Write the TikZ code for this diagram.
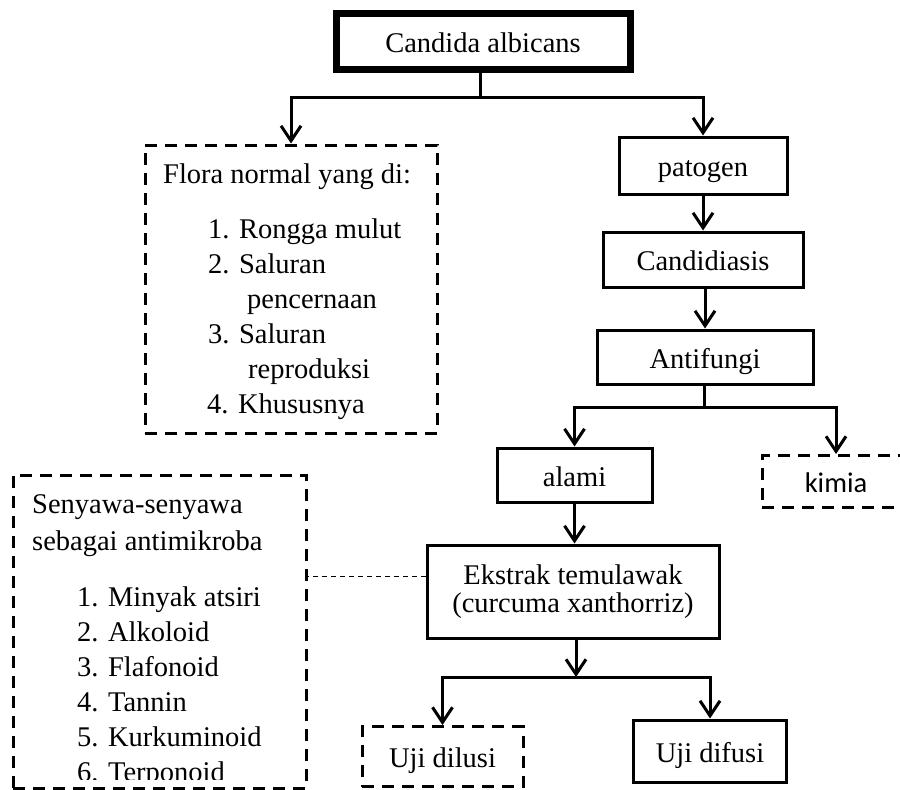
\documentclass[tikz,border=0pt]{standalone}
\usepackage{fontspec}
\setmainfont{Liberation Serif}
\newfontfamily\calibri{Carlito}
\usetikzlibrary{arrows.meta}
\begin{document}
\begin{tikzpicture}[x=1pt,y=-1pt,
  frame/.style={draw,line width=3pt,inner sep=0pt,font=\fontsize{28.5}{35}\selectfont},
  box/.style={frame,text height=22pt,text depth=0pt},
  dbox/.style={box,dash pattern=on 12pt off 8pt},
  conn/.style={line width=3pt},
  arr/.style={conn,-{Straight Barb[length=15pt,width=20pt]}},
  lbl/.style={anchor=base west,inner sep=0pt,font=\fontsize{28.5}{35}\selectfont}]
\useasboundingbox (0,0) rectangle (900,790);
\clip (0,0) rectangle (900,790);

% boxes
\node[box,line width=7pt,minimum width=294pt,minimum height=56pt] (top) at (483,41) {Candida albicans};
\node[dbox,minimum width=292pt,minimum height=288pt] (flora) at (291,289) {};
\node[box,minimum width=168pt,minimum height=57pt] (pat) at (703,165.5) {patogen};
\node[box,minimum width=200pt,minimum height=55pt] (cand) at (703,259.5) {Candidiasis};
\node[box,minimum width=216pt,minimum height=54pt] (anti) at (705,357) {Antifungi};
\node[box,minimum width=155pt,minimum height=54pt] (alami) at (574.5,475) {alami};
\node[dbox,font=\calibri\fontsize{28.5}{35}\selectfont,minimum width=148pt,minimum height=52pt] (kim) at (836,481.5) {kimia};
\node[frame,align=center,font=\fontsize{28.5}{28}\selectfont,minimum width=292pt,minimum height=93pt] (ekstrak) at (573,591.5) {Ekstrak temulawak\\(curcuma xanthorriz)};
\node[dbox,minimum width=293pt,minimum height=313pt] (seny) at (159.5,631.5) {};
\node[dbox,minimum width=161pt,minimum height=60pt] (dil) at (442.5,756.5) {Uji dilusi};
\node[box,minimum width=153pt,minimum height=62pt] (dif) at (710,751) {Uji difusi};

% Flora text
\node[lbl] (f0) at (163,183) {Flora normal yang di:};
\node[lbl] (f1) at (208,238) {1. Rongga mulut};
\node[lbl] (f2) at (208,273) {2. Saluran};
\node[lbl] (f3) at (247,308) {pencernaan};
\node[lbl] (f4) at (208,343) {3. Saluran};
\node[lbl] (f5) at (248,378) {reproduksi};
\node[lbl] (f6) at (207,413) {4. Khususnya};

% Senyawa text
\begin{scope}
\clip (13,475) rectangle (306,779);
\node[lbl] (s0) at (32,513) {Senyawa-senyawa};
\node[lbl] (s1) at (32,550) {sebagai antimikroba};
\node[lbl] (s2) at (77,606) {1. Minyak atsiri};
\node[lbl] (s3) at (77,641) {2. Alkoloid};
\node[lbl] (s4) at (77,676) {3. Flafonoid};
\node[lbl] (s5) at (77,711) {4. Tannin};
\node[lbl] (s6) at (77,746) {5. Kurkuminoid};
\node[lbl] (s7) at (77,781) {6. Terponoid};
\end{scope}

% connectors
\coordinate (j1) at (480,97);
\draw[conn] (top.south -| j1) -- (j1);
\draw[arr] (j1) -| (flora.north);
\draw[arr] (j1) -| (pat.north);
\draw[arr] (pat.south) -- (cand.north);
\draw[arr] (anti.north |- cand.south) -- (anti.north);
\coordinate (j2) at (704,407);
\draw[conn] (anti.south -| j2) -- (j2);
\draw[arr] (j2) -| (alami.north);
\draw[arr] (j2) -| (kim.north);
\draw[arr] (alami.south) -- (alami.south |- ekstrak.north);
\coordinate (j3) at (576,677);
\draw[arr] (ekstrak.south -| j3) -- (j3);
\draw[arr] (j3) -| (dil.north);
\draw[arr] (j3) -| (dif.north);
\coordinate (d0) at (0,576);
\draw[line width=1pt,dash pattern=on 5pt off 4pt] (ekstrak.west |- d0) -- (seny.east |- d0);
\end{tikzpicture}
\end{document}
